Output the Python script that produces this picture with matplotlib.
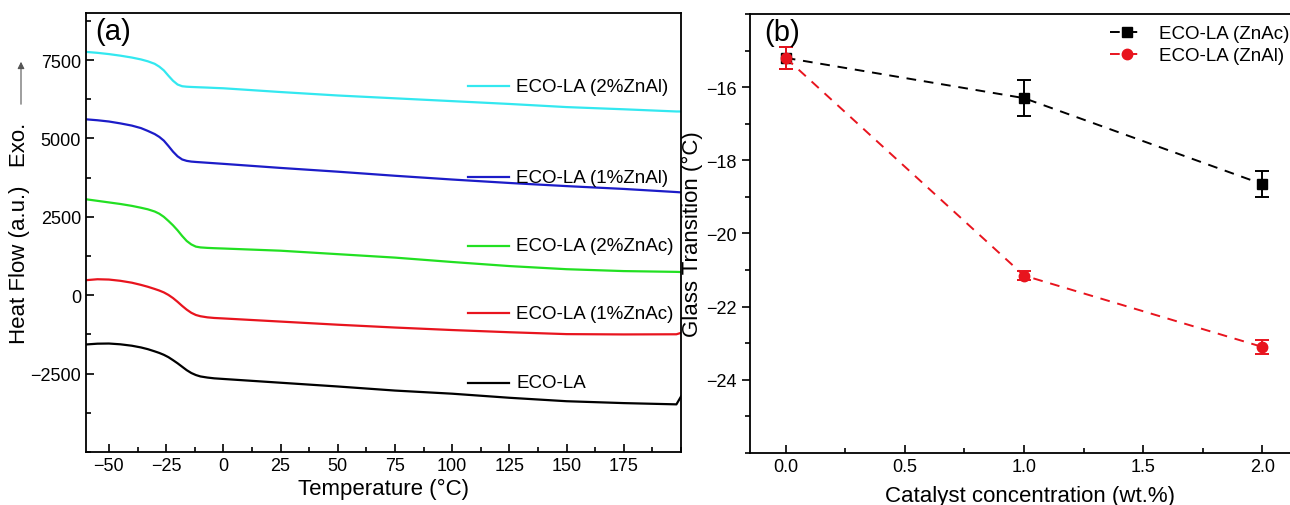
import matplotlib.pyplot as plt
from matplotlib.ticker import MultipleLocator

plt.rcParams['font.family'] = ['Liberation Sans', 'DejaVu Sans']

# ---- (a) DSC curves ----
temp = [-60, -55, -50, -45, -40, -36, -33, -30, -28, -26, -24, -22, -20, -18,
        -16, -14, -12, -10, -7, -4, 0, 25, 50, 75, 100, 125, 150, 175, 198, 200]
hf_eco = [-1570, -1545, -1540, -1565, -1610, -1665, -1720, -1790, -1840, -1900,
          -1975, -2070, -2170, -2280, -2390, -2480, -2545, -2590, -2625, -2650,
          -2670, -2790, -2910, -3040, -3140, -3270, -3380, -3440, -3480, -3230]
hf_1znac = [480, 510, 500, 460, 400, 330, 270, 200, 150, 90, 10, -90, -210,
            -340, -460, -560, -630, -670, -705, -725, -740, -840, -940, -1030,
            -1110, -1180, -1240, -1250, -1245, -1200]
hf_2znac = [3060, 3010, 2960, 2910, 2850, 2790, 2740, 2670, 2600, 2500, 2370,
            2230, 2070, 1890, 1730, 1620, 1550, 1525, 1510, 1500, 1490, 1420,
            1310, 1200, 1060, 930, 830, 770, 745, 740]
hf_1znal = [5610, 5580, 5540, 5480, 5410, 5330, 5240, 5140, 5050, 4930, 4760,
            4580, 4430, 4330, 4285, 4262, 4250, 4240, 4225, 4210, 4190, 4060,
            3940, 3810, 3690, 3580, 3480, 3390, 3290, 3280]
hf_2znal = [7760, 7730, 7690, 7640, 7580, 7520, 7460, 7380, 7290, 7170, 7000,
            6840, 6720, 6665, 6650, 6642, 6636, 6630, 6622, 6612, 6600, 6480,
            6370, 6280, 6190, 6100, 6000, 5930, 5860, 5860]
labels_a = ['ECO-LA', 'ECO-LA (1%ZnAc)', 'ECO-LA (2%ZnAc)', 'ECO-LA (1%ZnAl)',
            'ECO-LA (2%ZnAl)']

# ---- (b) glass transition ----
conc = [0.0, 1.0, 2.0]
tg_znac = [-15.2, -16.3, -18.65]
err_znac = [0.3, 0.5, 0.35]
tg_znal = [-15.2, -21.15, -23.1]
err_znal = [0.3, 0.12, 0.2]

curves = [hf_eco, hf_1znac, hf_2znac, hf_1znal, hf_2znal]
colors = ['black', '#e8141e', '#22e022', '#1c1cc8', '#33e8f0']
label_y = [-2790, -570, 1575, 3770, 6670]   # layout of the inline labels

fig = plt.figure(figsize=(12.9, 5.06), dpi=100)
ax = fig.add_axes([0.0667, 0.1047, 0.4612, 0.8676])
for c, col, lab, ly in zip(curves, colors, labels_a, label_y):
    ax.plot(temp, c, color=col, lw=1.6)
    ax.plot([107, 125], [ly, ly], color=col, lw=1.6)
    ax.text(128, ly, lab, fontsize=13.5, va='center', ha='left')

ax.set_xlim(-60, 200)
ax.set_ylim(-5000, 9000)
ax.set_xticks([-50, -25, 0, 25, 50, 75, 100, 125, 150, 175])
ax.xaxis.set_minor_locator(MultipleLocator(12.5))
ax.set_yticks([-2500, 0, 2500, 5000, 7500])
ax.yaxis.set_minor_locator(MultipleLocator(1250))
ax.tick_params(which='both', direction='in', labelsize=13)
ax.tick_params(which='major', length=6, width=1.2)
ax.tick_params(which='minor', length=3.5, width=1.2)
for s in ax.spines.values():
    s.set_linewidth(1.3)
ax.set_xlabel('Temperature (°C)', fontsize=16, labelpad=3)
ax.set_ylabel('Heat Flow (a.u.)   Exo.', fontsize=16)
ax.yaxis.set_label_coords(-0.094, 0.5)
ax.text(0.015, 0.99, '(a)', transform=ax.transAxes, fontsize=21,
        va='top', ha='left')
ax.annotate('', xy=(21, 446), xytext=(21, 398), xycoords='figure pixels',
            textcoords='figure pixels',
            arrowprops=dict(arrowstyle='-|>', color='#555555', lw=0.8,
                            mutation_scale=10))

ax2 = fig.add_axes([0.5814, 0.1028, 0.434, 0.8676])
ax2.errorbar(conc, tg_znac, yerr=err_znac, fmt='none', ecolor='black',
             capsize=5, elinewidth=1.4, capthick=1.4)
ax2.plot(conc, tg_znac, color='black', marker='s', ms=6.5, ls=(0, (5, 4)),
         lw=1.4, label='ECO-LA (ZnAc)')
ax2.errorbar(conc, tg_znal, yerr=err_znal, fmt='none', ecolor='#e8141e',
             capsize=5, elinewidth=1.4, capthick=1.4)
ax2.plot(conc, tg_znal, color='#e8141e', marker='o', ms=7.5, ls=(0, (5, 4)),
         lw=1.4, label='ECO-LA (ZnAl)')
ax2.set_xlim(-0.15, 2.2)
ax2.set_ylim(-26, -14)
ax2.xaxis.set_major_locator(MultipleLocator(0.5))
ax2.xaxis.set_minor_locator(MultipleLocator(0.25))
ax2.set_yticks([-24, -22, -20, -18, -16])
ax2.yaxis.set_minor_locator(MultipleLocator(1))
ax2.tick_params(axis='x', which='both', direction='in')
ax2.tick_params(axis='y', which='both', direction='out')
ax2.tick_params(which='both', labelsize=13, width=1.2)
ax2.tick_params(which='major', length=6)
ax2.tick_params(which='minor', length=3.5)
for s in ax2.spines.values():
    s.set_linewidth(1.3)
ax2.set_xlabel('Catalyst concentration (wt.%)', fontsize=16, labelpad=7)
ax2.set_ylabel('Glass Transition (°C)', fontsize=16)
ax2.yaxis.set_label_coords(-0.084, 0.5)
ax2.text(0.025, 0.99, '(b)', transform=ax2.transAxes, fontsize=21,
         va='top', ha='left')
ax2.legend(loc='upper right', bbox_to_anchor=(1.005, 0.963),
           bbox_transform=fig.transFigure, frameon=False, fontsize=13.5,
           handlelength=1.8, handletextpad=0.8, labelspacing=0.25,
           borderaxespad=0.0)

fig.savefig('out.png', dpi=100)
